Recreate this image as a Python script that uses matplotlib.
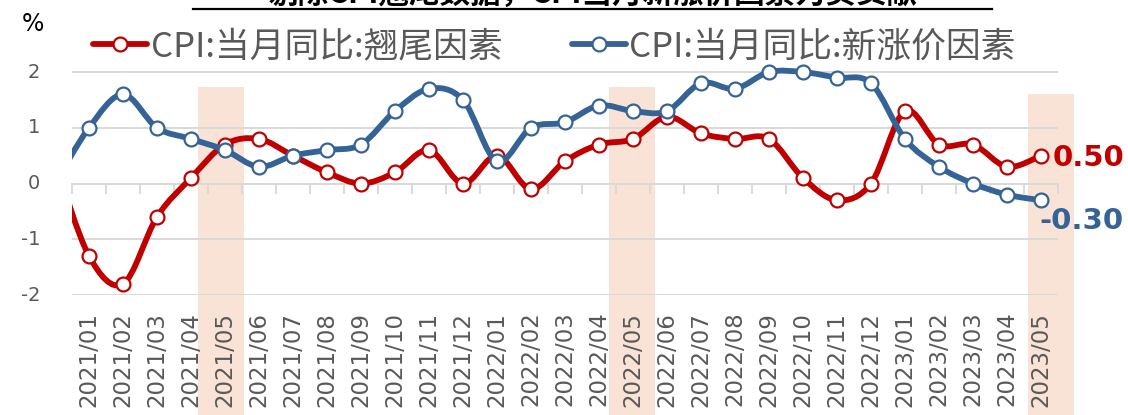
import matplotlib
matplotlib.use('Agg')
import matplotlib.pyplot as plt
from matplotlib.path import Path
from matplotlib.patches import PathPatch, Rectangle
from matplotlib.lines import Line2D

# ---------------- data ----------------
months = ['2021/01', '2021/02', '2021/03', '2021/04', '2021/05', '2021/06',
          '2021/07', '2021/08', '2021/09', '2021/10', '2021/11', '2021/12',
          '2022/01', '2022/02', '2022/03', '2022/04', '2022/05', '2022/06',
          '2022/07', '2022/08', '2022/09', '2022/10', '2022/11', '2022/12',
          '2023/01', '2023/02', '2023/03', '2023/04', '2023/05']
carry_over = [-1.3, -1.8, -0.6, 0.1, 0.7, 0.8, 0.5, 0.2, 0.0, 0.2, 0.6, 0.0,
              0.5, -0.1, 0.4, 0.7, 0.8, 1.2, 0.9, 0.8, 0.8, 0.1, -0.3, 0.0,
              1.3, 0.7, 0.7, 0.3, 0.5]
new_price = [1.0, 1.6, 1.0, 0.8, 0.6, 0.3, 0.5, 0.6, 0.7, 1.3, 1.7, 1.5,
             0.4, 1.0, 1.1, 1.4, 1.3, 1.3, 1.8, 1.7, 2.0, 2.0, 1.9, 1.8,
             0.8, 0.3, 0.0, -0.2, -0.3]
# 2020/12 values: only the curve entering at the left edge is visible
prev_carry_over = 0.4
prev_new_price = 0.0
series_names = ['CPI:当月同比:翘尾因素', 'CPI:当月同比:新涨价因素']
y_ticks = [-2, -1, 0, 1, 2]
highlight_months = ['2021/05', '2022/05', '2023/05']
highlight_tops = [1.73, 1.73, 1.6]
title = '剔除CPI翘尾数据，CPI当月新涨价因素为负贡献'

# ---------------- style ----------------
RED = '#C00000'
BLUE = '#356396'
GRAY_TXT = '#595959'
GRID = '#D9D9D9'
BAND = '#F9E3D6'
CJK = ['Noto Sans CJK SC', 'DejaVu Sans']
W, H = 1128, 415

fig = plt.figure(figsize=(W / 100, H / 100), dpi=100)
ax = fig.add_axes([72 / W, 120 / H, 986 / W, 243 / H])
ymin, ymax = -2.0, 2.36
ax.set_xlim(-0.5, len(months) - 0.5)
ax.set_ylim(ymin, ymax)


def smooth_path(xs, ys):
    pts = list(zip(xs, ys))
    n = len(pts)
    verts = [pts[0]]
    codes = [Path.MOVETO]
    for i in range(n - 1):
        p0 = pts[i - 1] if i > 0 else pts[i]
        p1 = pts[i]
        p2 = pts[i + 1]
        p3 = pts[i + 2] if i + 2 < n else pts[i + 1]
        c1 = (p1[0] + (p2[0] - p0[0]) / 6, p1[1] + (p2[1] - p0[1]) / 6)
        c2 = (p2[0] - (p3[0] - p1[0]) / 6, p2[1] - (p3[1] - p1[1]) / 6)
        verts += [c1, c2, p2]
        codes += [Path.CURVE4] * 3
    return Path(verts, codes)


xs = list(range(len(months)))

# highlight bands (extend below the plot area)
band_shift = [-0.12, -0.03, 0.3]
for m, top, sh in zip(highlight_months, highlight_tops, band_shift):
    i = months.index(m)
    w = 1.35
    bottom = -4.6
    ax.add_patch(Rectangle((i + sh - w / 2, bottom), w, top - bottom,
                           facecolor=BAND, edgecolor='none', zorder=0,
                           clip_on=False))

# grid / y axis (labels placed as texts, further left of the axis)
ax.set_yticks(y_ticks)
ax.set_yticklabels([])
ax.yaxis.grid(True, color=GRID, lw=1.4)
ax.set_axisbelow(True)
for s in ax.spines.values():
    s.set_visible(False)
ax.tick_params(axis='y', length=0)
ytrans = ax.get_yaxis_transform()
for v in y_ticks:
    ax.text(-32 / 986, v, f'{v:g}', transform=ytrans, ha='right', va='center',
            fontsize=14, color=GRAY_TXT)

# x labels at bottom
ax.set_xticks(xs)
ax.set_xticklabels(months, rotation=90)
ax.tick_params(axis='x', length=0, pad=12, labelsize=16.5, labelcolor=GRAY_TXT)
for lab in ax.get_xticklabels():
    lab.set_va('top')

# zero axis with boundary ticks
sec = ax.secondary_xaxis((0 - ymin) / (ymax - ymin))
sec.set_xticks([i - 0.5 for i in range(len(months) + 1)])
sec.tick_params(axis='x', length=7, width=1.4, color=GRID, direction='out',
                labelbottom=False, labeltop=False)
for s in sec.spines.values():
    s.set_color(GRID)
    s.set_linewidth(1.4)

# series
for (vals, prev, color, z) in [(carry_over, prev_carry_over, RED, 2),
                               (new_price, prev_new_price, BLUE, 4)]:
    path = smooth_path([-1] + xs, [prev] + vals)
    ax.add_patch(PathPatch(path, fill=False, edgecolor=color, lw=4.2,
                           capstyle='round', joinstyle='round', zorder=z))
    ax.plot(xs, vals, ls='none', marker='o', ms=10, mfc='white', mec=color,
            mew=1.6, zorder=z + 0.5, clip_on=False)

# end labels
ax.annotate(f'{carry_over[-1]:.2f}', xy=(xs[-1], carry_over[-1]),
            xytext=(12 * 0.72, -2.5 * 0.72), textcoords='offset points',
            ha='left', va='center', fontsize=21, fontweight='bold',
            color=RED, annotation_clip=False)
ax.annotate(f'{new_price[-1]:.2f}', xy=(xs[-1], new_price[-1]),
            xytext=(-2 * 0.72, -21 * 0.72), textcoords='offset points',
            ha='left', va='center', fontsize=21, fontweight='bold',
            color=BLUE, annotation_clip=False)

# legend
handles = [Line2D([], [], color=c, lw=4.2, marker='o', ms=10, mfc='white',
                  mec=c, mew=1.6, solid_capstyle='round')
           for c in (RED, BLUE)]
fig.legend(handles, series_names, loc='center left',
           bbox_to_anchor=(93 / W, 1 - 47 / H), ncol=2, frameon=False,
           prop={'family': CJK, 'size': 25}, labelcolor=GRAY_TXT,
           handlelength=1.56, handletextpad=0.1, columnspacing=2.0,
           borderpad=0, borderaxespad=0)

# percent unit
fig.text(33 / W, 1 - 24 / H, '%', ha='center', va='center', fontsize=17,
         color='black')

# cut-off title with underline (the reference shows it cropped at the top)
fig.text(592 / W, 1 - 3 / H, title, ha='center', va='baseline', fontsize=22,
         fontweight='bold', family=CJK, color='black')
fig.add_artist(Line2D([193 / W, 992 / W], [1 - 9.5 / H] * 2,
                      transform=fig.transFigure, color='black', lw=1.6))

fig.savefig('out.png', dpi=100)
